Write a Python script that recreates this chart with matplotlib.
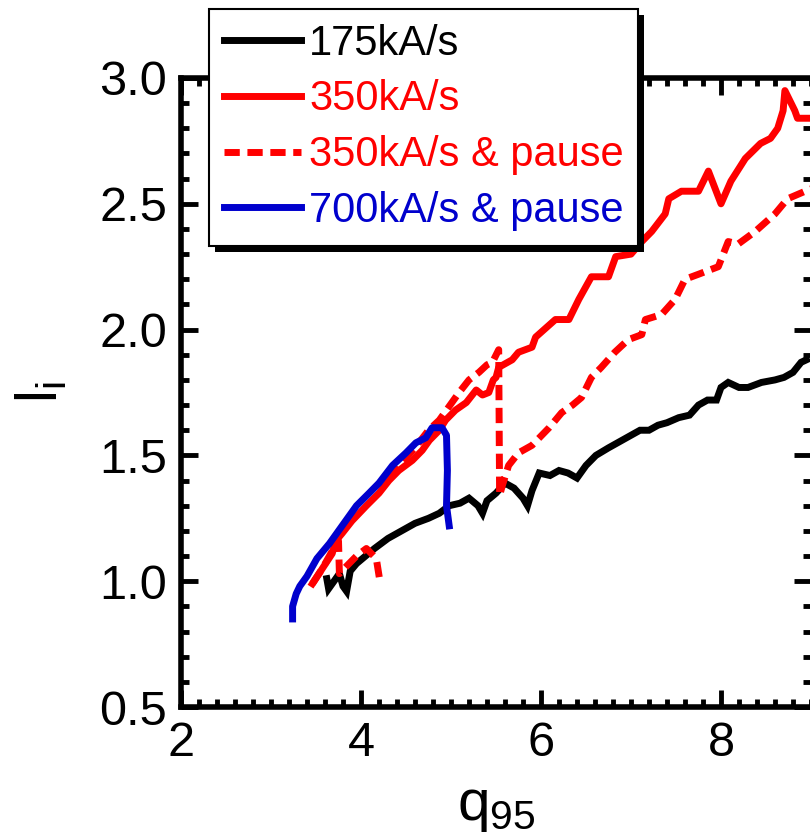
import numpy as np
import matplotlib
matplotlib.use("Agg")
import matplotlib.pyplot as plt
from matplotlib.patches import Rectangle
from matplotlib.ticker import MultipleLocator

# q95 vs li during ramp-down
q_175 = [3.62, 3.64, 3.70, 3.76, 3.80, 3.84, 3.88, 3.95, 4.05, 4.15, 4.30, 4.45, 4.60,
         4.75, 4.87, 4.98, 5.10, 5.20, 5.30, 5.35, 5.40, 5.50, 5.60, 5.70, 5.80, 5.85,
         5.90, 5.98, 6.10, 6.20, 6.30, 6.40, 6.50, 6.61, 6.75, 6.90, 7.00, 7.10, 7.20,
         7.30, 7.40, 7.53, 7.65, 7.75, 7.85, 7.95, 8.00, 8.08, 8.20, 8.30, 8.45, 8.60,
         8.70, 8.80, 8.89, 8.95]
li_175 = [1.01, 0.97, 1.00, 1.03, 0.98, 0.96, 1.04, 1.07, 1.10, 1.13, 1.17, 1.20, 1.23,
          1.25, 1.27, 1.30, 1.31, 1.33, 1.30, 1.27, 1.32, 1.35, 1.39, 1.37, 1.33, 1.30,
          1.36, 1.43, 1.42, 1.44, 1.43, 1.41, 1.46, 1.50, 1.53, 1.56, 1.58, 1.60, 1.60,
          1.62, 1.63, 1.65, 1.66, 1.70, 1.72, 1.72, 1.77, 1.79, 1.77, 1.77, 1.79, 1.80,
          1.81, 1.83, 1.87, 1.88]

q_350 = [3.46, 3.57, 3.68, 3.72, 3.79, 3.90, 4.06, 4.20, 4.31, 4.42, 4.57, 4.68, 4.76,
         4.87, 4.94, 5.05, 5.17, 5.28, 5.35, 5.42, 5.47, 5.50, 5.53, 5.68, 5.75, 5.90,
         5.94, 6.16, 6.31, 6.42, 6.56, 6.75, 6.83, 7.00, 7.12, 7.23, 7.38, 7.42, 7.56,
         7.75, 7.86, 8.00, 8.11, 8.27, 8.44, 8.55, 8.63, 8.69, 8.71, 8.82, 8.85, 9.00]
li_350 = [0.99, 1.05, 1.11, 1.16, 1.19, 1.24, 1.30, 1.35, 1.40, 1.44, 1.48, 1.52, 1.56,
          1.60, 1.64, 1.68, 1.71, 1.76, 1.74, 1.75, 1.80, 1.81, 1.85, 1.88, 1.91, 1.93,
          1.97, 2.04, 2.04, 2.12, 2.21, 2.21, 2.29, 2.30, 2.35, 2.39, 2.46, 2.52, 2.55,
          2.55, 2.63, 2.50, 2.59, 2.68, 2.74, 2.76, 2.80, 2.87, 2.95, 2.87, 2.84, 2.84]

q_350p = [3.46, 3.57, 3.68, 3.75, 3.76, 3.84, 3.95, 4.06, 4.17, 4.21, np.nan,
          4.30, 4.45, 4.60, 4.75, 4.87, 4.95, 5.01, 5.09, 5.20, 5.31, 5.40, 5.46, 5.53,
          5.54, 5.57, 5.64, 5.75, 5.90, 6.09, 6.23, 6.35, 6.45, 6.56, 6.67, 6.82, 6.97,
          7.12, 7.16, 7.34, 7.49, 7.60, 7.75, 7.97, 8.08, 8.19, 8.38, 8.60, 8.74, 9.00]
li_350p = [0.99, 1.05, 1.12, 1.16, 1.03, 1.06, 1.10, 1.13, 1.09, 1.00, np.nan,
           1.41, 1.47, 1.53, 1.60, 1.64, 1.68, 1.71, 1.75, 1.80, 1.83, 1.86, 1.87, 1.92,
           1.34, 1.38, 1.46, 1.51, 1.54, 1.61, 1.67, 1.70, 1.73, 1.81, 1.85, 1.91, 1.96,
           1.98, 2.04, 2.06, 2.12, 2.20, 2.22, 2.25, 2.35, 2.34, 2.39, 2.46, 2.52, 2.56]

q_700p = [3.24, 3.24, 3.28, 3.32, 3.40, 3.51, 3.65, 3.79, 3.95, 4.09, 4.20, 4.35, 4.50,
          4.61, 4.72, 4.79, 4.90, 4.95, 4.96, 4.95, 4.98]
li_700p = [0.85, 0.90, 0.95, 0.98, 1.02, 1.09, 1.15, 1.22, 1.30, 1.35, 1.39, 1.46, 1.51,
           1.55, 1.57, 1.61, 1.61, 1.58, 1.44, 1.30, 1.22]

labels = ["175kA/s", "350kA/s", "350kA/s & pause", "700kA/s & pause"]
colors = ["black", "#ff0000", "#ff0000", "#0000cd"]

plt.rcParams["font.family"] = ["Liberation Sans", "DejaVu Sans"]
plt.rcParams["mathtext.default"] = "regular"

fig = plt.figure(figsize=(8.1, 8.38), dpi=100)
ax = fig.add_axes([181 / 810, 131 / 838, 630 / 810, 629 / 838])

ax.plot(q_175, li_175, color=colors[0], lw=5, label=labels[0], solid_joinstyle="miter")
ax.plot(q_350, li_350, color=colors[1], lw=5, label=labels[1])
ax.plot(q_350p, li_350p, color=colors[2], lw=5, ls=(0, (2.2, 1.1)), label=labels[2])
ax.plot(q_700p, li_700p, color=colors[3], lw=5, label=labels[3])

ax.set_xlim(2, 9)
ax.set_ylim(0.5, 3.0)
ax.xaxis.set_major_locator(MultipleLocator(2))
ax.xaxis.set_minor_locator(MultipleLocator(0.2))
ax.yaxis.set_major_locator(MultipleLocator(0.5))
ax.yaxis.set_minor_locator(MultipleLocator(0.1))
ax.yaxis.set_major_formatter(matplotlib.ticker.FormatStrFormatter("%.1f"))
ax.tick_params(which="both", direction="in", top=True, right=True, width=3.5,
               labelsize=35)
ax.tick_params(which="major", length=12, pad=10)
ax.tick_params(which="minor", length=6)
for s in ax.spines.values():
    s.set_linewidth(4)

ax.set_xlabel("q$_{95}$", fontsize=42, labelpad=10)
ax.set_ylabel("l$_i$", fontsize=42, labelpad=22)

leg = fig.legend(loc="upper left", bbox_to_anchor=(209 / 810, 1 - 9 / 838),
                 fontsize=30, handlelength=1.85, handletextpad=0.2,
                 labelspacing=0.38, borderpad=0.35, borderaxespad=0,
                 fancybox=False, framealpha=1, edgecolor="black")
leg.get_frame().set_linewidth(1.5)
for txt, c in zip(leg.get_texts(), colors):
    txt.set_color(c)

# solid drop shadow behind the legend box
fig.canvas.draw()
bb = leg.get_window_extent().transformed(fig.transFigure.inverted())
dx, dy = 6 / 810, 6 / 838
fig.patches.append(Rectangle((bb.x0 + dx, bb.y0 - dy), bb.width, bb.height,
                             transform=fig.transFigure, facecolor="black",
                             edgecolor="none", zorder=leg.get_zorder() - 0.1))

fig.savefig("out.png", dpi=100)
